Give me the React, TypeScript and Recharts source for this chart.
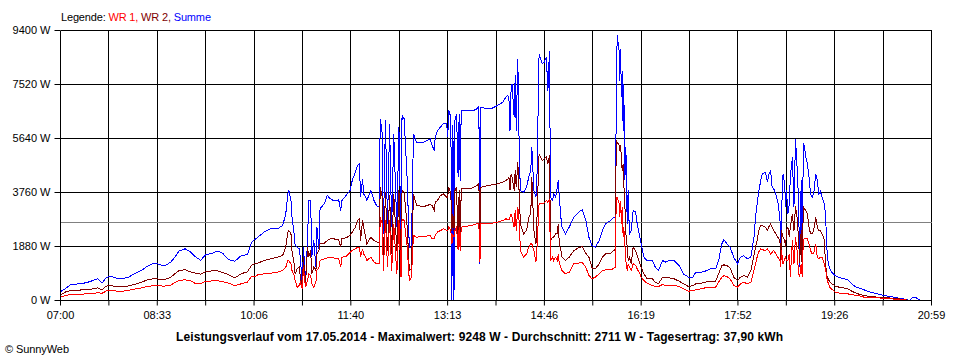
import React from 'react';
import { LineChart, Line, XAxis, YAxis, CartesianGrid, ReferenceLine } from 'recharts';

// minutes after 07:00
const times = [
  0, 5, 10, 15, 20, 25, 30, 36, 40, 44, 48, 54, 60, 66, 72, 78, 84, 90, 96, 100, 106, 110, 114, 120, 125, 130, 135, 140, 146, 151, 156, 162, 168, 174, 180, 184, 188,
  190, 196, 202, 209, 214, 217, 219, 220, 222, 223, 225, 226, 228, 230, 231, 233, 234, 236, 238, 239, 241, 242, 244, 246, 247, 249, 250, 254, 257, 260, 263, 268, 270, 271, 275, 279, 281, 284, 286, 288, 289, 291, 292, 294, 295, 299, 302, 305, 307, 308, 310, 311, 313, 315, 317, 319, 321, 324, 326, 328, 329, 331, 334, 336, 338, 340, 343, 350, 356,
  358, 360, 361, 363, 366, 369, 372, 373, 374, 376, 377, 378, 379, 380, 381.5, 383, 384, 385, 386, 389, 395, 398, 401, 403, 404, 405, 411, 416, 421, 426, 429, 431, 432, 433, 434, 435, 437, 438, 439, 440.5, 442, 443, 446, 449, 451, 453, 454, 456, 458, 459, 461, 464, 466, 468, 469.5, 471, 472, 474, 475, 477, 478.5, 479.5, 480.5, 482, 483, 486.5, 490, 494.5, 499, 502.5, 506,
  509, 512, 515, 519, 522, 525, 530, 533, 534.5, 535.3, 536.2, 537.2, 538.1, 538.8, 539.4, 540.4, 541, 542, 542.6, 543.6, 544.6, 545.9, 546.8, 548, 549.7, 551.6, 554, 555.5, 558, 559.3, 562, 565, 570, 573, 576, 580, 583, 586, 591, 596, 600, 605, 609, 612, 617, 621, 626, 631, 634, 637, 639, 642, 645,
  648.5, 652, 655, 658, 661.5, 665, 668, 669.5, 671, 672.5, 674.5, 676, 679, 681, 682, 684, 685.5, 687, 689, 691, 693, 693.7, 694.5, 696, 697.5, 698.5, 699.3, 700.7, 702, 703, 705, 706.5, 708, 709.5, 711, 712, 713.5, 714.5, 715.5, 716.5, 718, 719.5, 721, 722.5, 724, 725.5, 727.5, 729, 730.5, 732, 733.5, 735.5, 737, 738, 739.5, 741.5, 745,
  746, 750, 754, 758, 762, 766, 770, 774, 780, 787, 793, 800, 806, 812, 815, 818, 820, 822, 825, 828,
];

const summe = [
  310, 420, 560, 570, 590, 620, 680, 760, 600, 800, 850, 780, 760, 820, 950, 1050, 1200, 1300, 1250, 1200, 1330, 1500, 1720, 1800, 1700, 1520, 1400, 1600, 1640, 1720, 1650, 1420, 1370, 1560, 1600, 2030, 2150,
  2200, 2380, 2495, 2495, 2610, 3017, 3713, 3830, 3480, 2900, 2320, 1915, 1856, 1798, 1508, 560, 1856, 700, 2089, 3480, 3480, 1508, 2089, 1160, 2552, 1800, 3190, 3366, 3655, 3540, 3480, 3500, 3130, 3480, 3655, 3830, 4180, 4470, 4700, 4758, 3597, 4236, 3713, 3597, 3480, 3830, 3480, 3270, 3250, 6325, 5800, 2320, 6270, 2670, 6150, 2552, 5800, 2552, 6035, 2089, 6440, 6325, 4178, 1856, 1856, 5800, 5512, 5512, 5630,
  5396, 5222, 5686, 5918, 6035, 6174, 6150, 5686, 6615, 6382, 0, 6100, 0, 6267, 6500, 4293, 6500, 4178, 6615, 6615, 6615, 6615, 6673, 6754, 1277, 6731, 6673, 6700, 6789, 6904, 7078, 7137, 6963, 5918, 7311, 7543, 6382, 7833, 5918, 8414, 4990, 3830, 3770, 3945, 4293, 4526, 5340, 3830, 3597, 4410, 8588, 8240, 8298, 8472, 7311, 8703, 3597, 3480, 3713, 3597, 3945, 4178, 3597, 2900, 2552, 2320, 2552, 2900, 3075, 3157, 2800,
  2204, 1915, 1856, 2089, 2437, 2670, 2785, 2900, 2900, 6673, 9225, 8935, 8703, 7659, 8760, 7078, 8007, 5918, 7543, 4178, 5340, 2670, 3830, 2320, 2437, 3133, 3075, 2670, 2204, 1973, 1508, 1392, 1392, 1160, 1044, 1392, 1334, 1392, 1392, 1218, 928, 812, 812, 985, 985, 1020, 1102, 1102, 1392, 1973, 2113, 1973, 1856,
  1508, 1277, 1508, 1567, 1450, 1508, 2204, 2900, 3366, 3770, 4178, 4410, 4468, 4120, 4352, 4526, 3945, 3887, 3713, 3423, 2900, 1856, 3017, 4410, 4062, 3250, 3830, 3017, 3366, 4293, 4990, 3250, 5630, 4642, 3480, 1160, 4178, 1044, 5455, 5396, 4990, 4758, 4293, 3713, 3597, 3713, 4410, 4178, 3713, 3800, 3600, 3400, 3000, 1900, 1300, 1050, 905,
  870, 800, 754, 740, 580, 470, 430, 371, 290, 232, 174, 139, 93, 58, 35, 0, 81, 116, 81, 15,
];

const wr2 = [
  200, 300, 350, 340, 370, 380, 400, 440, 360, 500, 520, 480, 470, 510, 570, 640, 720, 760, 740, 730, 800, 930, 1040, 1070, 1000, 950, 920, 1010, 1030, 1040, 980, 900, 790, 930, 1000, 1220, 1300,
  1300, 1390, 1450, 1508, 1567, 1856, 2380, 2437, 2320, 1740, 1277, 928, 1102, 1160, 812, 470, 1508, 580, 1856, 1508, 1740, 928, 1160, 1044, 1624, 1740, 1973, 1996, 2089, 2148, 2148, 2110, 1856, 2148, 2180, 2263, 2380, 2552, 2785, 2844, 2089, 2785, 2552, 2204, 1973, 2204, 2089, 2030, 2030, 3945, 3597, 1508, 3770, 1740, 3655, 1624, 3713, 1740, 3830, 1277, 3830, 3770, 2552, 1044, 1100, 3713, 3307, 3270, 3342,
  3307, 3133, 3423, 3481, 3655, 3713, 3597, 3597, 3945, 3713, 2437, 3000, 2437, 3830, 3945, 1900, 3830, 1856, 3887, 3887, 3887, 3945, 4000, 4062, 2437, 3945, 4000, 4030, 4062, 4120, 4178, 4236, 4293, 3830, 4410, 4293, 3830, 4526, 3945, 4816, 3597, 2670, 2320, 2437, 2900, 3017, 4293, 2437, 1973, 2900, 5107, 4874, 4932, 4990, 4758, 5048, 2089, 2204, 2204, 2320, 2320, 2670, 1973, 1740, 1508, 1392, 1508, 1740, 1833, 1880, 1650,
  1508, 1137, 1102, 1277, 1508, 1624, 1650, 1740, 1798, 5570, 5512, 5455, 5396, 5222, 5396, 4990, 4526, 4758, 4062, 3366, 2320, 1856, 1392, 1508, 1277, 1856, 1740, 1567, 1277, 1160, 928, 754, 754, 638, 580, 812, 790, 790, 754, 673, 580, 487, 522, 580, 603, 638, 673, 673, 928, 1218, 1240, 1218, 1137,
  812, 696, 812, 870, 812, 1044, 1567, 1856, 2089, 2437, 2610, 2610, 2552, 2437, 2552, 2670, 2552, 2437, 2320, 2204, 2089, 1277, 2437, 2204, 2089, 1856, 2437, 2552, 2204, 2552, 3017, 2437, 3272, 2900, 2089, 1300, 2437, 1044, 3272, 3190, 3133, 3017, 2552, 2320, 2320, 2437, 2900, 2552, 2437, 2437, 2320, 2150, 1300, 900, 750, 620, 540,
  500, 464, 440, 420, 330, 260, 210, 174, 140, 116, 100, 85, 58, 45, 30, null, null, null, null, null,
];

const wr1 = [
  115, 180, 210, 210, 220, 230, 240, 270, 250, 330, 350, 330, 325, 360, 400, 440, 490, 520, 510, 500, 530, 620, 700, 720, 690, 590, 590, 670, 680, 690, 660, 600, 520, 580, 640, 830, 850,
  895, 930, 950, 985, 1044, 1160, 1392, 1370, 1277, 1044, 870, 696, 464, 522, 638, 400, 1160, 464, 696, 928, 870, 580, 464, 638, 1044, 1160, 1392, 1450, 1480, 1508, 1480, 1450, 1160, 1508, 1530, 1682, 1740, 1798, 1856, 1856, 1508, 1798, 1624, 1508, 1392, 1508, 1335, 1277, 1277, 2900, 2670, 1044, 2785, 1160, 2785, 1044, 2670, 928, 2785, 812, 2844, 2785, 1856, 696, 812, 2263, 2204, 2230, 2263,
  2148, 2148, 2262, 2380, 2437, 2494, 2437, 2437, 2552, 2437, 1973, 2300, 2204, 2437, 2552, 1750, 2552, 1740, 2552, 2570, 2611, 2630, 2670, 2690, 1334, 2670, 2670, 2690, 2727, 2785, 2844, 2820, 2800, 2900, 3017, 2900, 2552, 3133, 2437, 3250, 2670, 1740, 1508, 1624, 1856, 1973, 1973, 1740, 1334, 1856, 3366, 3366, 3400, 3482, 3420, 3540, 1392, 1508, 1392, 1508, 1392, 1624, 1277, 1160, 1044, 928, 986, 1277, 1300, 1334, 1160,
  870, 754, 812, 928, 1044, 1067, 1067, 1120, 1160, 3597, 3597, 3480, 3365, 2900, 3480, 2670, 3250, 2204, 2552, 1973, 1392, 1044, 1277, 1160, 1044, 1277, 1218, 1102, 928, 812, 696, 603, 522, 487, 487, 557, 522, 522, 522, 487, 406, 325, 348, 371, 406, 440, 464, 464, 638, 812, 858, 835, 754,
  522, 464, 580, 638, 580, 638, 1044, 1277, 1508, 1682, 1798, 1770, 1740, 1798, 1740, 1624, 1680, 1740, 1624, 1508, 1392, 1160, 1740, 1277, 1450, 1508, 1392, 1392, 1624, 812, 2089, 1277, 2204, 1740, 928, 812, 1277, 812, 2089, 2148, 2148, 2148, 1973, 1740, 1624, 1624, 1973, 1508, 1450, 1508, 1508, 1300, 1100, 800, 600, 430, 340,
  290, 260, 250, 232, 210, 180, 160, 116, 105, 93, 75, 58, 35, 25, 15, null, null, null, null, null,
];

const timeLabels = ['07:00', '08:33', '10:06', '11:40', '13:13', '14:46', '16:19', '17:52', '19:26', '20:59'];
const powerTicks = [0, 1880, 3760, 5640, 7520, 9400];
const average = 2711;
const dayLength = 839;

const data = times.map((t, i) => ({ t, summe: summe[i], wr2: wr2[i], wr1: wr1[i] }));
const xTicks = Array.from({ length: 19 }, (_, i) => (i * dayLength) / 18);

const font = '"Liberation Sans", Arial, sans-serif';

export default function App() {
  return (
    <div style={{ position: 'absolute', left: 0, top: 0, width: 960, height: 360, background: '#fff', fontFamily: font }}>
      <LineChart width={960} height={360} data={data} margin={{ top: 30.5, right: 28.5, bottom: 0, left: 0 }}>
        <CartesianGrid stroke="#000" strokeOpacity={1} shapeRendering="crispEdges" />
        <XAxis
          dataKey="t"
          type="number"
          domain={[0, dayLength]}
          ticks={xTicks}
          height={59.5}
          interval={0}
          stroke="#000"
          tickSize={5}
          tickMargin={6}
          tick={{ fill: '#000', fontSize: 11, fontFamily: font }}
          tickFormatter={(_v: number, i: number) => (i % 2 === 0 ? timeLabels[i / 2] : '')}
        />
        <YAxis
          type="number"
          domain={[0, 9400]}
          ticks={powerTicks}
          width={60.5}
          interval={0}
          stroke="#000"
          tickSize={6}
          tickMargin={4}
          tick={{ fill: '#000', fontSize: 11, fontFamily: font }}
          tickFormatter={(v: number) => `${v} W`}
        />
        <ReferenceLine y={average} stroke="#808080" shapeRendering="crispEdges" />
        <Line dataKey="summe" stroke="#0000ff" strokeWidth={1} dot={false} type="linear" shapeRendering="crispEdges" isAnimationActive={false} />
        <Line dataKey="wr2" stroke="#800000" strokeWidth={1} dot={false} type="linear" shapeRendering="crispEdges" isAnimationActive={false} />
        <Line dataKey="wr1" stroke="#ff0000" strokeWidth={1} dot={false} type="linear" shapeRendering="crispEdges" isAnimationActive={false} />
      </LineChart>
      <svg width={960} height={360} style={{ position: 'absolute', left: 0, top: 0, pointerEvents: 'none' }}>
        <text x={61} y={21} fontSize={11} fontFamily={font} textLength={150} lengthAdjust="spacing">
          <tspan fill="#000">Legende: </tspan>
          <tspan fill="#ff0000">WR 1, </tspan>
          <tspan fill="#800000">WR 2, </tspan>
          <tspan fill="#0000ff">Summe</tspan>
        </text>
        <text x={479.5} y={341} fontSize={12} fontWeight="bold" fontFamily={font} textAnchor="middle" textLength={607} lengthAdjust="spacing" fill="#000">
          Leistungsverlauf vom 17.05.2014 - Maximalwert: 9248 W - Durchschnitt: 2711 W - Tagesertrag: 37,90 kWh
        </text>
        <text x={5} y={353} fontSize={11} fontFamily={font} textLength={64} lengthAdjust="spacing" fill="#000">
          © SunnyWeb
        </text>
      </svg>
    </div>
  );
}
